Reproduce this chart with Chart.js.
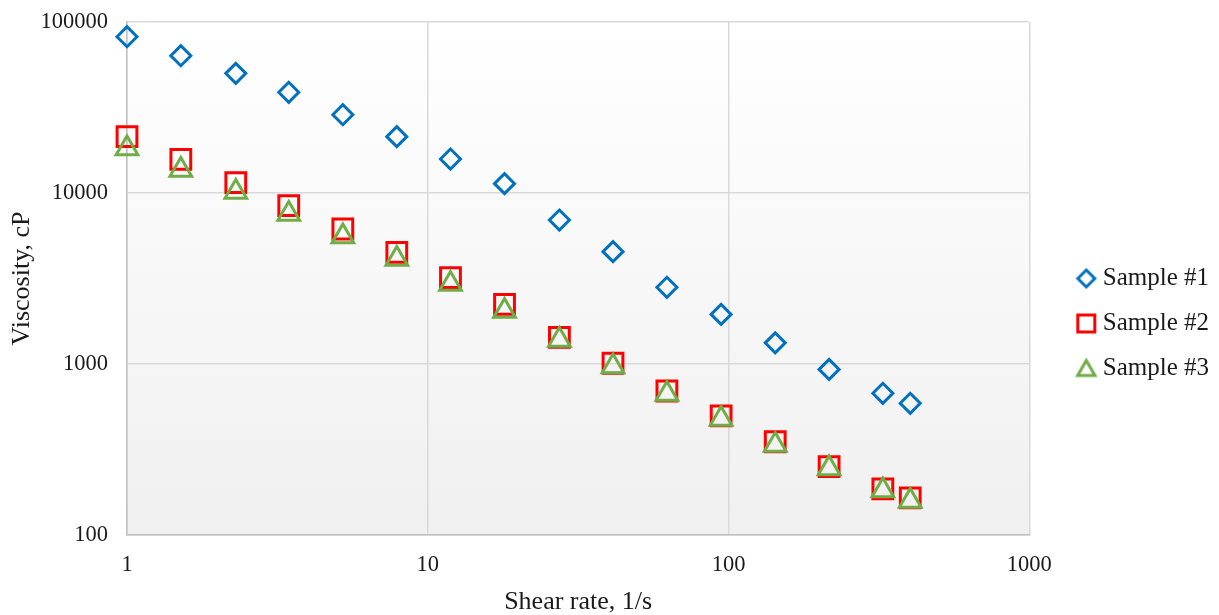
<!DOCTYPE html>
<html>
<head>
	<title>Viscosity vs shear rate</title>
	<script src="https://cdn.jsdelivr.net/npm/chart.js"></script>
	<style>
		html, body { margin: 0; padding: 0; background: #ffffff; }
		#wrap { width: 1219px; height: 615px; }
	</style>
</head>
<body>
	<div id="wrap"><canvas id="myChart"></canvas></div>
	<script type="text/javascript">
	// data
	var shearRate = [1, 1.51, 2.3, 3.45, 5.22, 7.89, 11.9, 18, 27.4, 41.3, 62.4, 94.5, 143, 216, 326, 402];
	var sample1 = [82000, 63500, 50100, 38800, 28700, 21350, 15800, 11340, 6950, 4540, 2810, 1950, 1330, 930, 674, 589];
	var sample2 = [21350, 15740, 11490, 8430, 6160, 4500, 3200, 2230, 1430, 1010, 695, 497, 351, 251, 186, 165];
	var sample3 = [18180, 13630, 10130, 7540, 5570, 4110, 2940, 2040, 1380, 967, 668, 477, 336, 245, 182, 158];
	var seriesNames = ['Sample #1', 'Sample #2', 'Sample #3'];
	var xTicks = [1, 10, 100, 1000];
	var yTicks = [100, 1000, 10000, 100000];

	var FONT = 'Liberation Serif, Times New Roman, serif';
	var colors = ['#0070c0', '#ff0000', '#70ad47'];
	var styles = ['rectRot', 'rect', 'triangle'];

	function pts(ys) {
		return shearRate.map(function (x, i) { return {x: x, y: ys[i]}; });
	}

	// small legend markers, all about the same size like in the original
	function legendIcon(style, radius, color) {
		var c = document.createElement('canvas');
		c.width = 26; c.height = 26;
		var g = c.getContext('2d');
		g.strokeStyle = color;
		g.fillStyle = 'rgba(0,0,0,0)';
		g.lineWidth = 3;
		Chart.helpers.drawPoint(g, {pointStyle: style, radius: radius, borderWidth: 3, rotation: 0}, 13, style == 'triangle' ? 15 : 13);
		return c;
	}
	var icons = [legendIcon(styles[0], 8.5, colors[0]), legendIcon(styles[1], 12, colors[1]), legendIcon(styles[2], 10, colors[2])];

	// light grey gradient behind the plot
	var plotBg = {
		id: 'plotBg',
		beforeDraw: function (chart) {
			var a = chart.chartArea, ctx = chart.ctx;
			var g = ctx.createLinearGradient(0, a.top, 0, a.bottom);
			g.addColorStop(0, '#ffffff');
			g.addColorStop(1, '#f0f0f0');
			ctx.save();
			ctx.fillStyle = g;
			ctx.fillRect(a.left, a.top, a.right - a.left, a.bottom - a.top);
			ctx.restore();
		}
	};

	var ctx = document.getElementById('myChart').getContext('2d');
	var chart = new Chart(ctx, {
		type: 'scatter',
		data: {
			datasets: [{
				label: seriesNames[0],
				data: pts(sample1),
				pointStyle: styles[0],
				pointRadius: 10,
				pointBorderWidth: 3,
				borderColor: colors[0],
				backgroundColor: 'rgba(0,0,0,0)',
				order: 2,
				clip: false
			}, {
				label: seriesNames[1],
				data: pts(sample2),
				pointStyle: styles[1],
				pointRadius: 14,
				pointBorderWidth: 3,
				borderColor: colors[1],
				backgroundColor: 'rgba(0,0,0,0)',
				order: 1,
				clip: false
			}, {
				label: seriesNames[2],
				data: pts(sample3),
				pointStyle: styles[2],
				pointRadius: 12.5,
				pointBorderWidth: 3,
				borderColor: colors[2],
				backgroundColor: 'rgba(0,0,0,0)',
				order: 0,
				clip: false
			}]
		},
		options: {
			responsive: true,
			maintainAspectRatio: false,
			animation: false,
			layout: { padding: { top: 22, left: 0, right: 0, bottom: 0 } },
			scales: {
				x: {
					type: 'logarithmic',
					min: 1, max: 1000,
					afterBuildTicks: function (s) { s.ticks = xTicks.map(function (v) { return {value: v}; }); },
					afterFit: function (s) { s.height = 80; s.paddingLeft = 0; s.paddingRight = 0; },
					grid: { color: '#d9d9d9', lineWidth: 1.5, drawTicks: false },
					border: { color: '#c0c0c0', width: 1.5 },
					ticks: {
						padding: 17,
						color: '#1a1a1a',
						font: { family: FONT, size: 22.5 },
						maxRotation: 0,
						autoSkip: false,
						callback: function (v) { return String(v); }
					},
					title: {
						display: true,
						text: 'Shear rate, 1/s',
						color: '#1a1a1a',
						font: { family: FONT, size: 26, lineHeight: 1 },
						padding: { top: 0, bottom: 0 }
					}
				},
				y: {
					type: 'logarithmic',
					min: 100, max: 100000,
					afterBuildTicks: function (s) { s.ticks = yTicks.map(function (v) { return {value: v}; }); },
					afterFit: function (s) { s.width = 127; s.paddingTop = 0; s.paddingBottom = 0; },
					grid: { color: '#d9d9d9', lineWidth: 1.5, drawTicks: false },
					border: { color: '#c0c0c0', width: 1.5 },
					ticks: {
						padding: 19,
						color: '#1a1a1a',
						font: { family: FONT, size: 22.5 },
						autoSkip: false,
						callback: function (v) { return String(v); }
					},
					title: {
						display: true,
						text: 'Viscosity, cP',
						color: '#1a1a1a',
						font: { family: FONT, size: 26, lineHeight: 1 },
						padding: { top: 9, bottom: 0 }
					}
				},
				// empty axis only to leave a gap before the legend
				gap: {
					type: 'linear',
					position: 'right',
					min: 0, max: 1,
					afterFit: function (s) { s.width = 33; s.paddingTop = 0; s.paddingBottom = 0; },
					grid: { display: false },
					border: { display: false },
					ticks: { display: false }
				}
			},
			plugins: {
				legend: {
					position: 'right',
					title: { display: true, text: '', font: { size: 0 }, padding: { top: 5, bottom: 5 } },
					labels: {
						usePointStyle: true,
						boxWidth: 8,
						boxHeight: 13,
						padding: 20,
						color: '#1a1a1a',
						font: { family: FONT, size: 25 },
						sort: function (a, b) { return a.datasetIndex - b.datasetIndex; },
						generateLabels: function (chart) {
							var items = Chart.defaults.plugins.legend.labels.generateLabels(chart);
							items.forEach(function (it) { it.pointStyle = icons[it.datasetIndex]; });
							return items;
						}
					}
				},
				tooltip: { enabled: false }
			}
		},
		plugins: [plotBg]
	});
	</script>
</body>
</html>
